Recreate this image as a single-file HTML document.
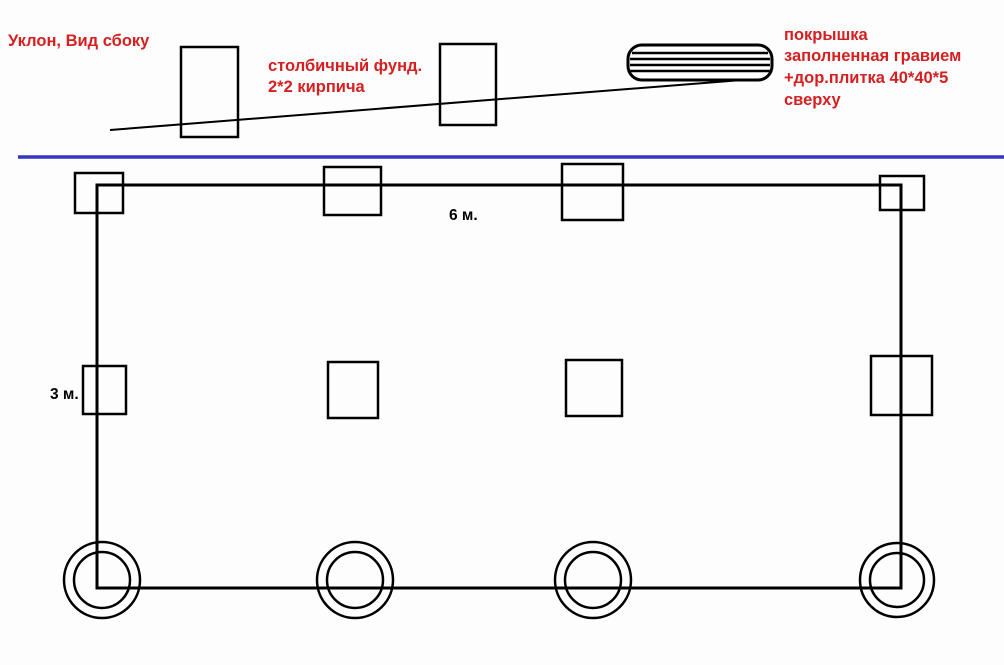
<!DOCTYPE html>
<html><head><meta charset="utf-8"><style>
html,body{margin:0;padding:0;background:#fdfdfd;}
svg{display:block;}
text{font-family:"Liberation Sans",sans-serif;font-weight:bold;}
</style></head><body>
<svg width="1004" height="665" viewBox="0 0 1004 665" xmlns="http://www.w3.org/2000/svg">
<rect width="1004" height="665" fill="#fdfdfd"/>
<g fill="none" stroke="#000" stroke-width="2.5">
<rect x="181" y="47" width="57" height="90"/>
<rect x="440" y="44" width="56" height="81"/>
<line x1="110" y1="130" x2="742" y2="80" stroke-width="2"/>
<g stroke-width="2.5">
<rect x="628" y="45" width="144" height="35" rx="14" stroke-width="3"/>
<line x1="632" y1="53" x2="768" y2="53"/>
<line x1="630" y1="59" x2="770" y2="59"/>
<line x1="630" y1="65" x2="770" y2="65"/>
<line x1="630" y1="71" x2="770" y2="71"/>
</g>
<rect x="97" y="185" width="804" height="403" stroke-width="3"/>
<rect x="75" y="173" width="48" height="40"/>
<rect x="324" y="167" width="57" height="48"/>
<rect x="562" y="164" width="61" height="56"/>
<rect x="880" y="176" width="44" height="34"/>
<rect x="83" y="366" width="43" height="48"/>
<rect x="328" y="362" width="50" height="56"/>
<rect x="566" y="360" width="56" height="56"/>
<rect x="871" y="356" width="61" height="59"/>
<circle cx="102" cy="580" r="38"/><circle cx="102" cy="580" r="28"/>
<circle cx="355" cy="580" r="38"/><circle cx="355" cy="580" r="28"/>
<circle cx="593" cy="580" r="38"/><circle cx="593" cy="580" r="28"/>
<circle cx="897" cy="580" r="37"/><circle cx="897" cy="580" r="27"/>
</g>
<line x1="18" y1="157" x2="1004" y2="157" stroke="#3535c8" stroke-width="3.5"/>
<g fill="#d42020" font-size="16.5">
<text x="8" y="46">Уклон, Вид сбоку</text>
<text x="268" y="71">столбичный фунд.</text>
<text x="268" y="92">2*2 кирпича</text>
<text x="784" y="40">покрышка</text>
<text x="784" y="61">заполненная гравием</text>
<text x="784" y="83">+дор.плитка 40*40*5</text>
<text x="784" y="105">сверху</text>
</g>
<g fill="#000" font-size="15.5">
<text x="449" y="220">6 м.</text>
<text x="50" y="399">3 м.</text>
</g>
</svg>
</body></html>
